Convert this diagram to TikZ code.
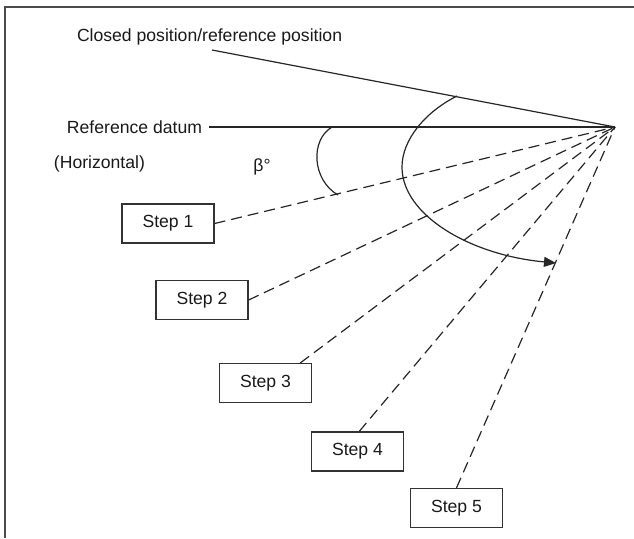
\documentclass[tikz,border=0pt]{standalone}
\usepackage{fontspec}
\setmainfont{Liberation Sans}
\usepackage{tikz}
\usetikzlibrary{arrows.meta, positioning, calc}
\tikzstyle{stepbox} = [rectangle, draw=black!80, line width=0.6pt, minimum width=46pt, minimum height=19.5pt, inner sep=0pt, text centered]
\tikzstyle{lbl} = [inner sep=3.3pt]
\tikzstyle{solidline} = [line width=0.6pt, draw=black!85]
\tikzstyle{dashline} = [line width=0.6pt, draw=black!85, dash pattern=on 5.5pt off 3pt]
\tikzstyle{arrow} = [line width=0.6pt, draw=black!85, -{Triangle[length=6pt,width=5pt]}]

\begin{document}
\begin{tikzpicture}[x=0.5pt, y=-0.5pt, every node/.style={font=\fontsize{8.8}{10.5}\selectfont, text=black!90}]
  \useasboundingbox (0,0) rectangle (634,538);
  \draw[line width=0.8pt, black!70] (5,538) -- (5,7) -- (634,7);

  \coordinate (pivot) at (615,127);
  \coordinate (closedend) at (212,50);

  \node[lbl, anchor=west] (closedlbl) at (70,37) {Closed position/reference position};
  \node[lbl, anchor=west] (datumlbl) at (60,127) {Reference datum};
  \node[lbl, anchor=west] (horizlbl) at (47,164) {(Horizontal)};
  \node[lbl] (beta) at (262,167) {β°};

  \node[stepbox] (s1) at (168,223.5) {Step 1};
  \node[stepbox] (s2) at (202,300) {Step 2};
  \node[stepbox] (s3) at (265.5,383) {Step 3};
  \node[stepbox] (s4) at (357.5,451.5) {Step 4};
  \node[stepbox] (s5) at (456.5,508) {Step 5};

  \draw[solidline] (closedend) -- (pivot);
  \draw[solidline] (datumlbl.east) -- (pivot);

  \draw[dashline] (s1.east) -- (pivot);
  \draw[dashline] (s2.east) -- (pivot);
  \draw[dashline] (s3.30) -- (pivot);
  \draw[dashline] (s4.85) -- (pivot);
  \draw[dashline] (s5.north) -- (pivot);

  \draw[solidline] (332,127) .. controls (310,140) and (312,180) .. (338,195);
  \draw[arrow] (457,96) .. controls (425,112) and (402,140) .. (402,167)
    .. controls (402,215) and (470,255) .. (556,263);
\end{tikzpicture}
\end{document}
